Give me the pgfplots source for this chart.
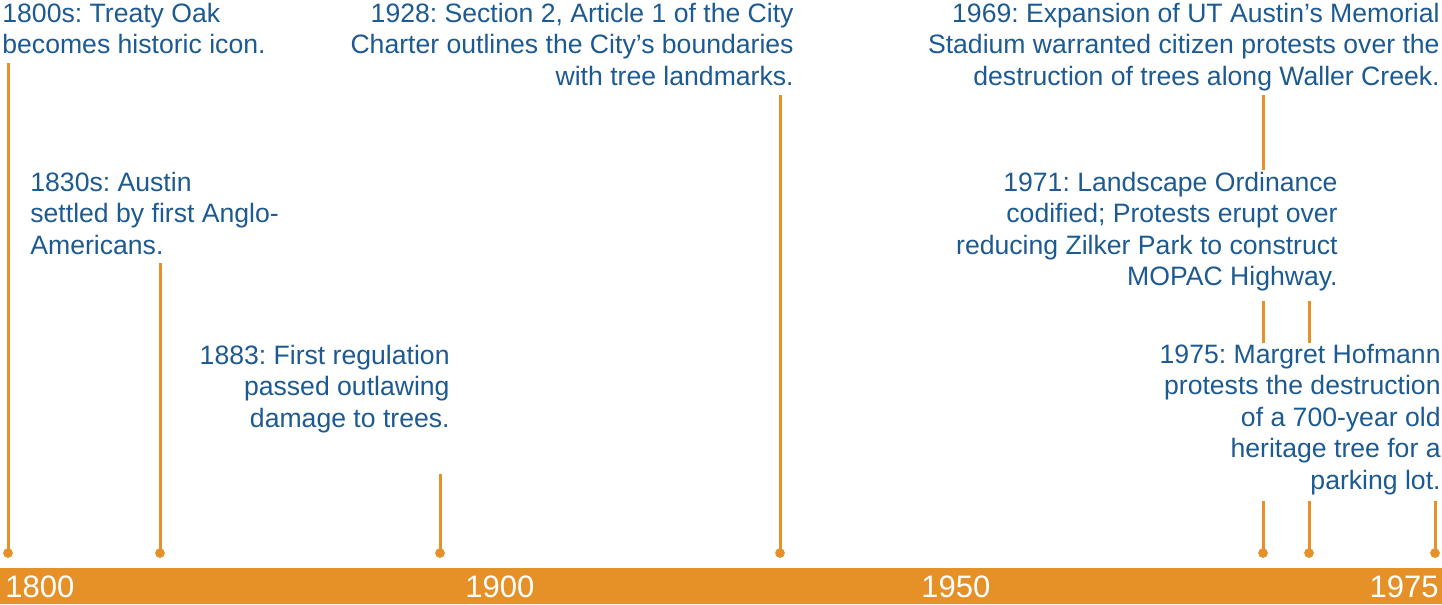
\documentclass[border=0pt]{standalone}
\usepackage{pgfplots}
\pgfplotsset{compat=1.18}
\usepackage{fontspec}
\setmainfont{Liberation Sans}
\frenchspacing
\definecolor{tlorange}{RGB}{230,145,40}
\definecolor{tlblue}{RGB}{28,90,145}
\begin{document}
\begin{tikzpicture}
\begin{axis}[
    width=721pt, height=303pt, scale only axis,
    xmin=0, xmax=1442, ymin=0, ymax=606,
    y dir=reverse,
    axis lines=none, clip=false,
]
% timeline bar
\addplot[fill=tlorange, draw=none] coordinates {(0,570) (1442,570) (1442,606) (0,606) (0,570)};
\tikzset{yr/.style={inner sep=0pt, text=white, font=\fontsize{15.5pt}{18pt}\selectfont}}
\node[yr, anchor=base west] at (axis cs:5,599) {1800};
\node[yr, anchor=base west] at (axis cs:465,599) {1900};
\node[yr, anchor=base west] at (axis cs:921,599) {1950};
\node[yr, anchor=base east] at (axis cs:1439,599) {1975};

% stems
\addplot[tlorange, line width=1.5pt] coordinates {(8,65) (8,555)};
\addplot[tlorange, line width=1.5pt] coordinates {(160,265) (160,555)};
\addplot[tlorange, line width=1.5pt] coordinates {(440,476) (440,555)};
\addplot[tlorange, line width=1.5pt] coordinates {(780,97) (780,555)};
\addplot[tlorange, line width=1.5pt] coordinates {(1263,97) (1263,172)};
\addplot[tlorange, line width=1.5pt] coordinates {(1263,303) (1263,345)};
\addplot[tlorange, line width=1.5pt] coordinates {(1263,503) (1263,555)};
\addplot[tlorange, line width=1.5pt] coordinates {(1309,303) (1309,345)};
\addplot[tlorange, line width=1.5pt] coordinates {(1309,503) (1309,555)};
\addplot[tlorange, line width=1.5pt] coordinates {(1435,503) (1435,555)};
% dots
\addplot[only marks, mark=*, mark size=2.2pt, tlorange] coordinates {
    (8,555) (160,555) (440,555) (780,555) (1263,555) (1309,555) (1435,555)};

% event texts
\tikzset{ev/.style={inner sep=0pt, text=tlblue, font=\fontsize{13.3pt}{15.75pt}\selectfont}}
\node[ev, anchor=base west] at (axis cs:2,24)
    {\begin{tabular}[t]{@{}l@{}}1800s: Treaty Oak\\becomes historic icon.\end{tabular}};
\node[ev, anchor=base west] at (axis cs:30,193)
    {\begin{tabular}[t]{@{}l@{}}1830s: Austin\\settled by first Anglo-\\Americans.\end{tabular}};
\node[ev, anchor=base east] at (axis cs:450,366)
    {\begin{tabular}[t]{@{}r@{}}1883: First regulation\\passed outlawing\\damage to trees.\end{tabular}};
\node[ev, anchor=base east] at (axis cs:794,24)
    {\begin{tabular}[t]{@{}r@{}}1928: Section 2, Article 1 of the City\\Charter outlines the City’s boundaries\\with tree landmarks.\end{tabular}};
\node[ev, anchor=base east] at (axis cs:1440,24)
    {\begin{tabular}[t]{@{}r@{}}1969: Expansion of UT Austin’s Memorial\\Stadium warranted citizen protests over the\\destruction of trees along Waller Creek.\end{tabular}};
\node[ev, anchor=base east] at (axis cs:1338,193)
    {\begin{tabular}[t]{@{}r@{}}1971: Landscape Ordinance\\codified; Protests erupt over\\reducing Zilker Park to construct\\MOPAC Highway.\end{tabular}};
\node[ev, anchor=base east] at (axis cs:1441,365)
    {\begin{tabular}[t]{@{}r@{}}1975: Margret Hofmann\\protests the destruction\\of a 700-year old\\heritage tree for a\\parking lot.\end{tabular}};
\end{axis}
\end{tikzpicture}
\end{document}
